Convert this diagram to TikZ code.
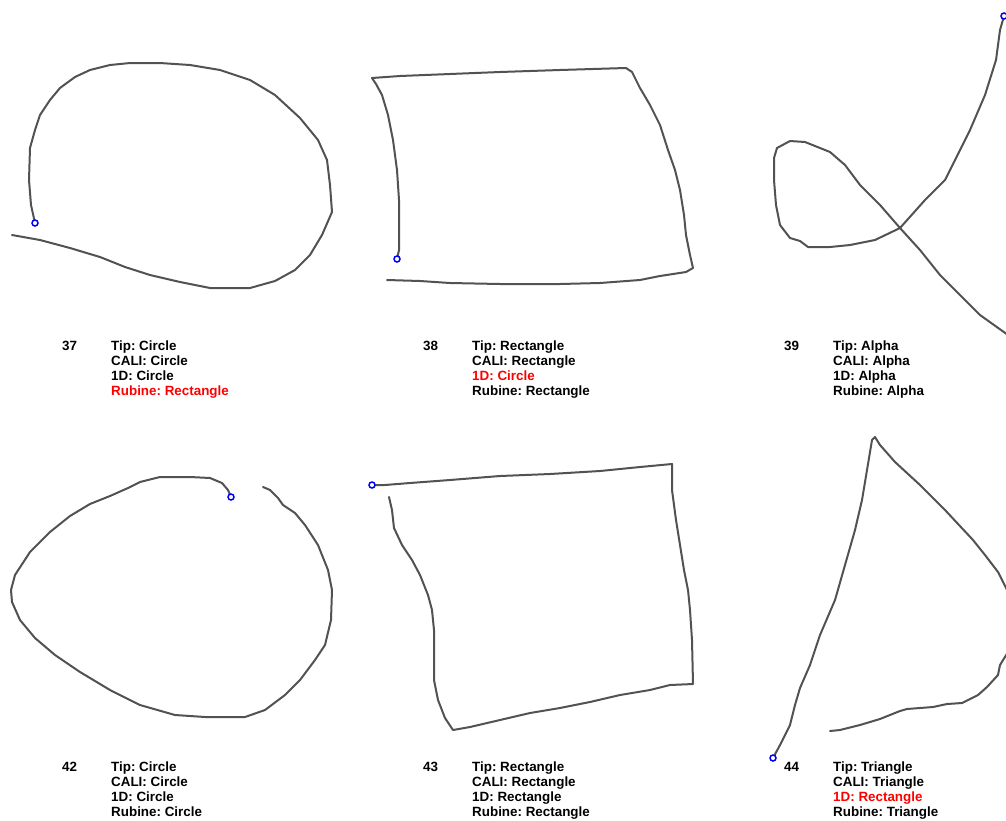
\documentclass[tikz,border=0pt]{standalone}
\usepackage{fontspec}
\setmainfont{Liberation Sans}
\begin{document}
\frenchspacing
\begin{tikzpicture}[x=1pt,y=-1pt,
  stroke/.style={draw=black!68, line width=2pt, line join=round, line cap=round},
  startpt/.style={circle, draw=blue, fill=white, line width=1.5pt, inner sep=0pt, minimum size=6pt},
  lbl/.style={anchor=base west, inner sep=0pt, font=\fontsize{13.4}{15}\bfseries\selectfont},
  miss/.style={lbl, text=red}]
\useasboundingbox (0,0) rectangle (1006,820);
\clip (0,0) rectangle (1006,820);
% 37
\draw[stroke] (35,223) -- (31,205) -- (29,180) -- (30,148) -- (35,130) -- (40,115) -- (50,100) -- (60,88) -- (75,77) -- (90,70) -- (110,65) -- (130,63) -- (160,63) -- (190,65) -- (220,70) -- (250,80) -- (275,95) -- (300,118) -- (318,140) -- (327,160) -- (330,185) -- (332,212) -- (322,235) -- (310,255) -- (295,270) -- (275,281) -- (250,288) -- (210,288) -- (180,282) -- (150,275) -- (125,267) -- (100,257) -- (70,248) -- (40,240) -- (12,235);
\node[startpt] (s37) at (35,223) {};
% 38
\draw[stroke] (397,259) -- (399,250) -- (399,200) -- (397,170) -- (393,140) -- (388,115) -- (382,95) -- (376,84) -- (372,78) -- (400,76) -- (450,74) -- (500,72) -- (560,70) -- (626,68) -- (632,72) -- (640,88) -- (650,105) -- (660,125) -- (668,150) -- (675,170) -- (680,190) -- (684,215) -- (686,235) -- (690,255) -- (693,268) -- (686,272) -- (660,276) -- (640,280) -- (600,283) -- (560,284) -- (500,284) -- (450,283) -- (420,281) -- (387,280);
\node[startpt] (s38) at (397,259) {};
% 39
\draw[stroke] (1004,16) -- (1000,30) -- (996,60) -- (985,95) -- (970,130) -- (955,160) -- (945,180) -- (925,200) -- (900,228) -- (875,240) -- (850,245) -- (830,247) -- (808,247) -- (800,241) -- (790,238) -- (780,225) -- (776,205) -- (774,180) -- (774,158) -- (777,148) -- (790,141) -- (805,142) -- (830,152) -- (845,165) -- (860,185) -- (880,205) -- (900,228) -- (920,250) -- (940,275) -- (960,295) -- (980,315) -- (1008,335);
\node[startpt] (s39) at (1004,16) {};
% 42
\draw[stroke] (231,497) -- (228,490) -- (222,483) -- (210,478) -- (190,477) -- (160,477) -- (140,482) -- (128,488) -- (110,496) -- (90,504) -- (70,516) -- (50,532) -- (30,552) -- (15,575) -- (11,590) -- (12,602) -- (20,620) -- (35,638) -- (55,655) -- (80,672) -- (110,690) -- (140,705) -- (175,715) -- (205,717) -- (245,717) -- (265,710) -- (285,695) -- (300,680) -- (315,660) -- (325,645) -- (331,620) -- (332,590) -- (328,570) -- (318,545) -- (305,525) -- (295,513) -- (283,505) -- (278,498) -- (270,490) -- (263,487);
\node[startpt] (s42) at (231,497) {};
% 43
\draw[stroke] (372,485) -- (385,485) -- (410,483) -- (450,480) -- (500,476) -- (550,474) -- (600,471) -- (640,467) -- (672,464) -- (672,490) -- (676,520) -- (680,545) -- (684,570) -- (688,590) -- (690,610) -- (692,640) -- (693,684) -- (670,685) -- (650,690) -- (620,695) -- (590,702) -- (560,708) -- (530,713) -- (500,720) -- (470,727) -- (453,730) -- (445,718) -- (438,700) -- (434,680) -- (434,650) -- (434,630) -- (432,610) -- (428,595) -- (420,575) -- (412,560) -- (402,545) -- (394,528) -- (392,510) -- (389,497);
\node[startpt] (s43) at (372,485) {};
% 44
\draw[stroke] (773,758) -- (780,745) -- (790,725) -- (795,705) -- (800,688) -- (810,665) -- (820,635) -- (835,600) -- (845,565) -- (855,530) -- (862,500) -- (867,470) -- (872,440) -- (875,437) -- (880,445) -- (895,462) -- (920,485) -- (945,510) -- (973,540) -- (985,555) -- (998,572) -- (1002,580) -- (1008,592);
\draw[stroke] (1008,652) -- (1000,665) -- (998,675) -- (987,687) -- (978,695) -- (962,703) -- (947,704) -- (933,707) -- (920,708) -- (907,709) -- (900,711) -- (880,719) -- (860,725) -- (840,730) -- (830,731);
\node[startpt] (s44) at (773,758) {};
% labels row 1
\node[lbl] (n37) at (62,350) {37};
\node[lbl] (a37) at (111,350) {Tip: Circle};
\node[lbl] (b37) at (111,365) {CALI: Circle};
\node[lbl] (c37) at (111,380) {1D: Circle};
\node[miss] (d37) at (111,395) {Rubine: Rectangle};
\node[lbl] (n38) at (423,350) {38};
\node[lbl] (a38) at (472,350) {Tip: Rectangle};
\node[lbl] (b38) at (472,365) {CALI: Rectangle};
\node[miss] (c38) at (472,380) {1D: Circle};
\node[lbl] (d38) at (472,395) {Rubine: Rectangle};
\node[lbl] (n39) at (784,350) {39};
\node[lbl] (a39) at (833,350) {Tip: Alpha};
\node[lbl] (b39) at (833,365) {CALI: Alpha};
\node[lbl] (c39) at (833,380) {1D: Alpha};
\node[lbl] (d39) at (833,395) {Rubine: Alpha};
% labels row 2
\node[lbl] (n42) at (62,771) {42};
\node[lbl] (a42) at (111,771) {Tip: Circle};
\node[lbl] (b42) at (111,786) {CALI: Circle};
\node[lbl] (c42) at (111,801) {1D: Circle};
\node[lbl] (d42) at (111,816) {Rubine: Circle};
\node[lbl] (n43) at (423,771) {43};
\node[lbl] (a43) at (472,771) {Tip: Rectangle};
\node[lbl] (b43) at (472,786) {CALI: Rectangle};
\node[lbl] (c43) at (472,801) {1D: Rectangle};
\node[lbl] (d43) at (472,816) {Rubine: Rectangle};
\node[lbl] (n44) at (784,771) {44};
\node[lbl] (a44) at (833,771) {Tip: Triangle};
\node[lbl] (b44) at (833,786) {CALI: Triangle};
\node[miss] (c44) at (833,801) {1D: Rectangle};
\node[lbl] (d44) at (833,816) {Rubine: Triangle};
\end{tikzpicture}
\end{document}
